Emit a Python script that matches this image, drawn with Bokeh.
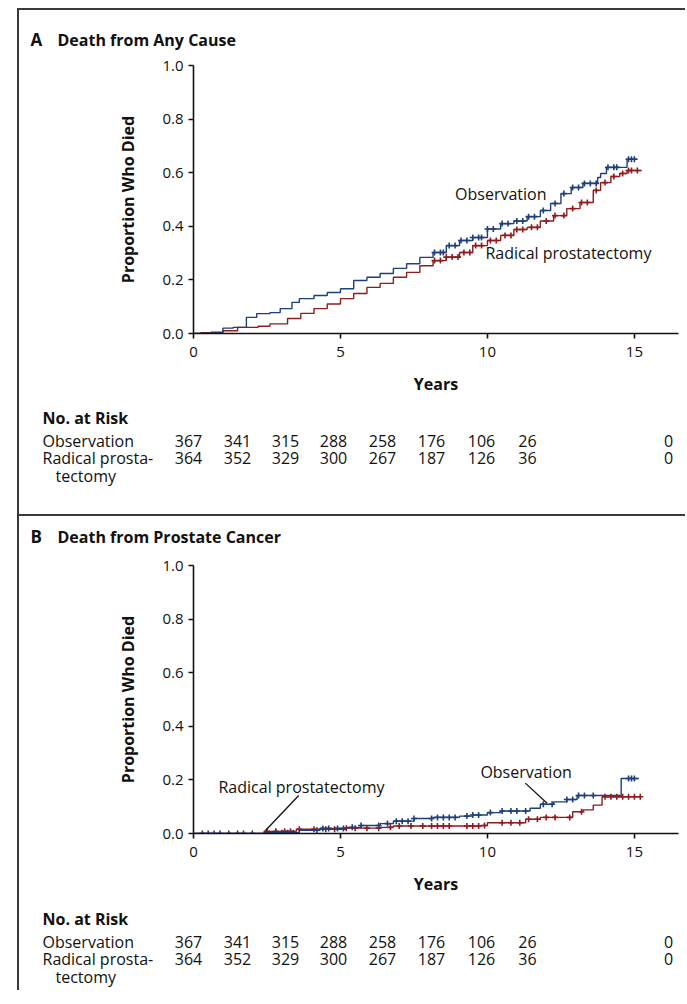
import numpy as np
from bokeh.plotting import figure
from bokeh.layouts import column
from bokeh.models import Range1d, FixedTicker, NumeralTickFormatter
from bokeh.core.properties import value
from bokeh.embed import file_html
from bokeh.resources import INLINE

# ---------------- data ----------------
X_TICKS = [0, 5, 10, 15]
Y_TICKS = [0.0, 0.2, 0.4, 0.6, 0.8, 1.0]

# Panel A: death from any cause (step curves)
a_obs_t = [0, 0.6, 1.0, 1.35, 1.8, 2.15, 2.6, 2.95, 3.35, 3.6, 4.1, 4.55, 5.0, 5.45, 5.9, 6.35, 6.8,
           7.25, 7.7, 8.15, 8.6, 9.05, 9.5, 10.0, 10.45, 10.9, 11.35, 11.8, 12.15, 12.5, 12.85, 13.25,
           13.75, 13.85, 14.05, 14.75, 15.1]
a_obs_y = [0, 0.005, 0.02, 0.023, 0.06, 0.074, 0.078, 0.093, 0.116, 0.13, 0.142, 0.153, 0.167, 0.198,
           0.21, 0.224, 0.243, 0.26, 0.284, 0.302, 0.328, 0.347, 0.358, 0.39, 0.41, 0.42, 0.436, 0.459,
           0.485, 0.522, 0.545, 0.56, 0.582, 0.597, 0.62, 0.65, 0.65]
a_rp_t = [0, 0.25, 1.0, 1.5, 2.2, 2.6, 3.2, 3.65, 4.1, 4.55, 5.0, 5.45, 5.9, 6.35, 6.8, 7.25, 7.7, 8.15,
          8.6, 9.05, 9.5, 10.0, 10.45, 10.9, 11.35, 11.8, 12.25, 12.7, 13.15, 13.6, 13.85, 14.2, 14.5,
          14.75, 15.25]
a_rp_y = [0, 0.003, 0.01, 0.023, 0.027, 0.036, 0.056, 0.075, 0.093, 0.11, 0.13, 0.149, 0.172, 0.187,
          0.21, 0.228, 0.253, 0.272, 0.285, 0.302, 0.328, 0.347, 0.366, 0.388, 0.396, 0.42, 0.44, 0.466,
          0.489, 0.534, 0.563, 0.586, 0.597, 0.608, 0.608]
a_obs_cens = [8.2, 8.4, 8.5, 8.7, 8.9, 9.1, 9.3, 9.5, 9.7, 9.8, 10.0, 10.2, 10.5, 10.7, 11.0, 11.2,
              11.4, 11.6, 11.9, 12.3, 12.6, 12.9, 13.1, 13.3, 13.5, 13.7, 14.1, 14.3, 14.4, 14.8,
              14.9, 15.0]
a_rp_cens = [8.2, 8.4, 8.6, 8.8, 9.0, 9.2, 9.4, 9.6, 9.8, 10.1, 10.3, 10.6, 10.8, 11.0, 11.2, 11.5,
             11.7, 12.0, 12.3, 12.6, 12.9, 13.2, 13.4, 13.7, 14.0, 14.3, 14.6, 14.8, 14.9, 15.1]

# Panel B: death from prostate cancer
b_obs_t = [0, 2.4, 3.6, 4.3, 5.2, 5.7, 6.35, 6.8, 7.5, 8.15, 9.05, 9.5, 10.0, 10.45, 11.45, 11.8,
           12.25, 12.7, 13.05, 14.55, 15.15]
b_obs_y = [0, 0.003, 0.012, 0.019, 0.023, 0.03, 0.037, 0.046, 0.056, 0.06, 0.065, 0.069, 0.078,
           0.084, 0.094, 0.109, 0.118, 0.127, 0.142, 0.205, 0.205]
b_rp_t = [0, 2.4, 3.5, 5.2, 6.35, 6.8, 9.8, 10.0, 11.3, 11.8, 12.9, 13.25, 13.6, 13.9, 15.2]
b_rp_y = [0, 0.008, 0.016, 0.02, 0.023, 0.028, 0.03, 0.04, 0.053, 0.06, 0.081, 0.088, 0.106, 0.137,
          0.137]
b_obs_cens = [0.3, 0.5, 0.7, 0.9, 1.2, 1.5, 1.7, 2.0, 2.8, 3.0, 3.2, 3.4, 4.2, 4.4, 4.6, 4.9, 5.1,
              5.4, 5.7, 6.3, 6.6, 6.9, 7.1, 7.3, 7.5, 8.1, 8.3, 8.5, 8.7, 8.9, 9.3, 9.5, 9.7, 10.1,
              10.5, 10.8, 11.0, 11.3, 11.9, 12.2, 12.7, 12.9, 13.1, 13.3, 13.6, 14.8, 14.9, 15.0]
b_rp_cens = [2.5, 2.8, 3.1, 3.3, 3.6, 4.1, 4.5, 4.8, 5.2, 5.5, 5.9, 6.3, 6.7, 7.0, 7.4, 7.8, 8.1,
             8.3, 8.5, 8.7, 9.3, 9.5, 9.7, 9.9, 10.5, 10.8, 11.1, 11.4, 11.7, 12.0, 12.3, 12.8, 13.2,
             14.0, 14.2, 14.4, 14.6, 14.8, 15.0, 15.2]

RISK_GROUPS = ["Observation", "Radical prosta-"]
risk_obs = [367, 341, 315, 288, 258, 176, 106, 26, 0]
risk_rp = [364, 352, 329, 300, 267, 187, 126, 36, 0]

# ---------------- style ----------------
FONT = value("Open Sans")
BLUE = "#1f3f7a"
RED = "#8e1b1e"
INK = "#111111"
W = 666
RISK_X = [169, 218, 266, 314, 363, 412, 462, 508, 649]


def step_lookup(t, y, c):
    idx = np.searchsorted(np.asarray(t), np.asarray(c), side="right") - 1
    return list(np.asarray(y)[idx])


def blank(h):
    p = figure(width=W, height=h, x_range=Range1d(0, W), y_range=Range1d(h, 0),
               output_backend="svg", toolbar_location=None, x_axis_location=None,
               y_axis_location=None, min_border=0, frame_align=False)
    p.outline_line_color = None
    p.grid.visible = False
    return p


def header(letter, title, h, yc):
    p = blank(h)
    p.text(x=[11], y=[yc], text=[letter], text_font=FONT, text_font_size="17px",
           text_font_style="bold", text_color=INK, text_baseline="middle")
    p.text(x=[38], y=[yc], text=[title], text_font=FONT, text_font_size="16px",
           text_font_style="bold", text_color=INK, text_baseline="middle")
    return p


def chart(ot, oy, rt, ry, oc, rc):
    p = figure(width=W, height=348, x_range=Range1d(0, 16.5), y_range=Range1d(0, 1.0),
               output_backend="svg", toolbar_location=None, min_border_left=174,
               min_border_right=7, min_border_top=13, min_border_bottom=67, frame_align=False)
    p.outline_line_color = None
    p.grid.visible = False
    p.xaxis.ticker = FixedTicker(ticks=X_TICKS)
    p.yaxis.ticker = FixedTicker(ticks=Y_TICKS)
    p.yaxis.formatter = NumeralTickFormatter(format="0.0")
    for ax in (p.xaxis, p.yaxis):
        ax.axis_line_width = 1.6
        ax.axis_line_color = INK
        ax.major_tick_line_width = 1.6
        ax.major_tick_line_color = INK
        ax.major_tick_out = 5
        ax.major_tick_in = 0
        ax.minor_tick_out = 0
        ax.minor_tick_in = 0
        ax.major_label_text_font = "Open Sans"
        ax.major_label_text_font_size = "15px"
        ax.major_label_text_color = INK
        ax.axis_label_text_font = "Open Sans"
        ax.axis_label_text_font_size = "16px"
        ax.axis_label_text_font_style = "bold"
        ax.axis_label_text_color = INK
    p.xaxis.axis_label = "Years"
    p.xaxis.major_label_standoff = 8
    p.xaxis.axis_label_standoff = 13
    p.yaxis.axis_label = "Proportion Who Died"
    p.yaxis.major_label_standoff = 5
    p.yaxis.axis_label_standoff = 20

    p.step(rt, ry, mode="after", line_color=RED, line_width=1.4)
    p.step(ot, oy, mode="after", line_color=BLUE, line_width=1.4)
    p.scatter(rc, step_lookup(rt, ry, rc), marker="cross", size=6, line_width=1.6,
              line_color=RED)
    p.scatter(oc, step_lookup(ot, oy, oc), marker="cross", size=6, line_width=1.6,
              line_color=BLUE)
    return p


def table(h, y_head):
    p = blank(h)
    kw = dict(text_font=FONT, text_font_size="16px", text_color=INK, text_baseline="middle")
    p.text(x=[23], y=[y_head], text=["No. at Risk"], text_font_style="bold", **kw)
    p.text(x=[23, 23], y=[y_head + 23, y_head + 40], text=RISK_GROUPS, **kw)
    p.text(x=[36], y=[y_head + 58], text=["tectomy"], **kw)
    p.text(x=RISK_X, y=[y_head + 23] * len(risk_obs), text=[str(v) for v in risk_obs],
           text_align="center", **kw)
    p.text(x=RISK_X, y=[y_head + 40] * len(risk_rp), text=[str(v) for v in risk_rp],
           text_align="center", **kw)
    return p


lab = dict(text_font=FONT, text_font_size="16px", text_color=INK, text_baseline="middle")

# Panel A
hA = header("A", "Death from Any Cause", 42, 29)
cA = chart(a_obs_t, a_obs_y, a_rp_t, a_rp_y, a_obs_cens, a_rp_cens)
cA.text(x=[8.9], y=[0.52], text=["Observation"], **lab)
cA.text(x=[9.93], y=[0.30], text=["Radical prostatectomy"], **lab)
tA = table(114, 17)

# Panel B
hB = header("B", "Death from Prostate Cancer", 36, 20)
cB = chart(b_obs_t, b_obs_y, b_rp_t, b_rp_y, b_obs_cens, b_rp_cens)
cB.text(x=[0.85], y=[0.175], text=["Radical prostatectomy"], **lab)
cB.text(x=[9.76], y=[0.231], text=["Observation"], **lab)
cB.segment(x0=[3.58, 11.29], y0=[0.142, 0.188], x1=[2.45, 12.03], y1=[0.011, 0.113],
           line_color=INK, line_width=1.3)
tB = table(90, 18)

border = "2px solid #3a3a3a"
panelA = column(hA, cA, tA, styles={"margin-left": "17px", "margin-top": "8px",
                                    "border-left": border, "border-top": border,
                                    "border-bottom": border})
panelB = column(hB, cB, tB, styles={"margin-left": "17px", "border-left": border})
layout = column(panelA, panelB)

open("out.html", "w").write(file_html(layout, INLINE))
